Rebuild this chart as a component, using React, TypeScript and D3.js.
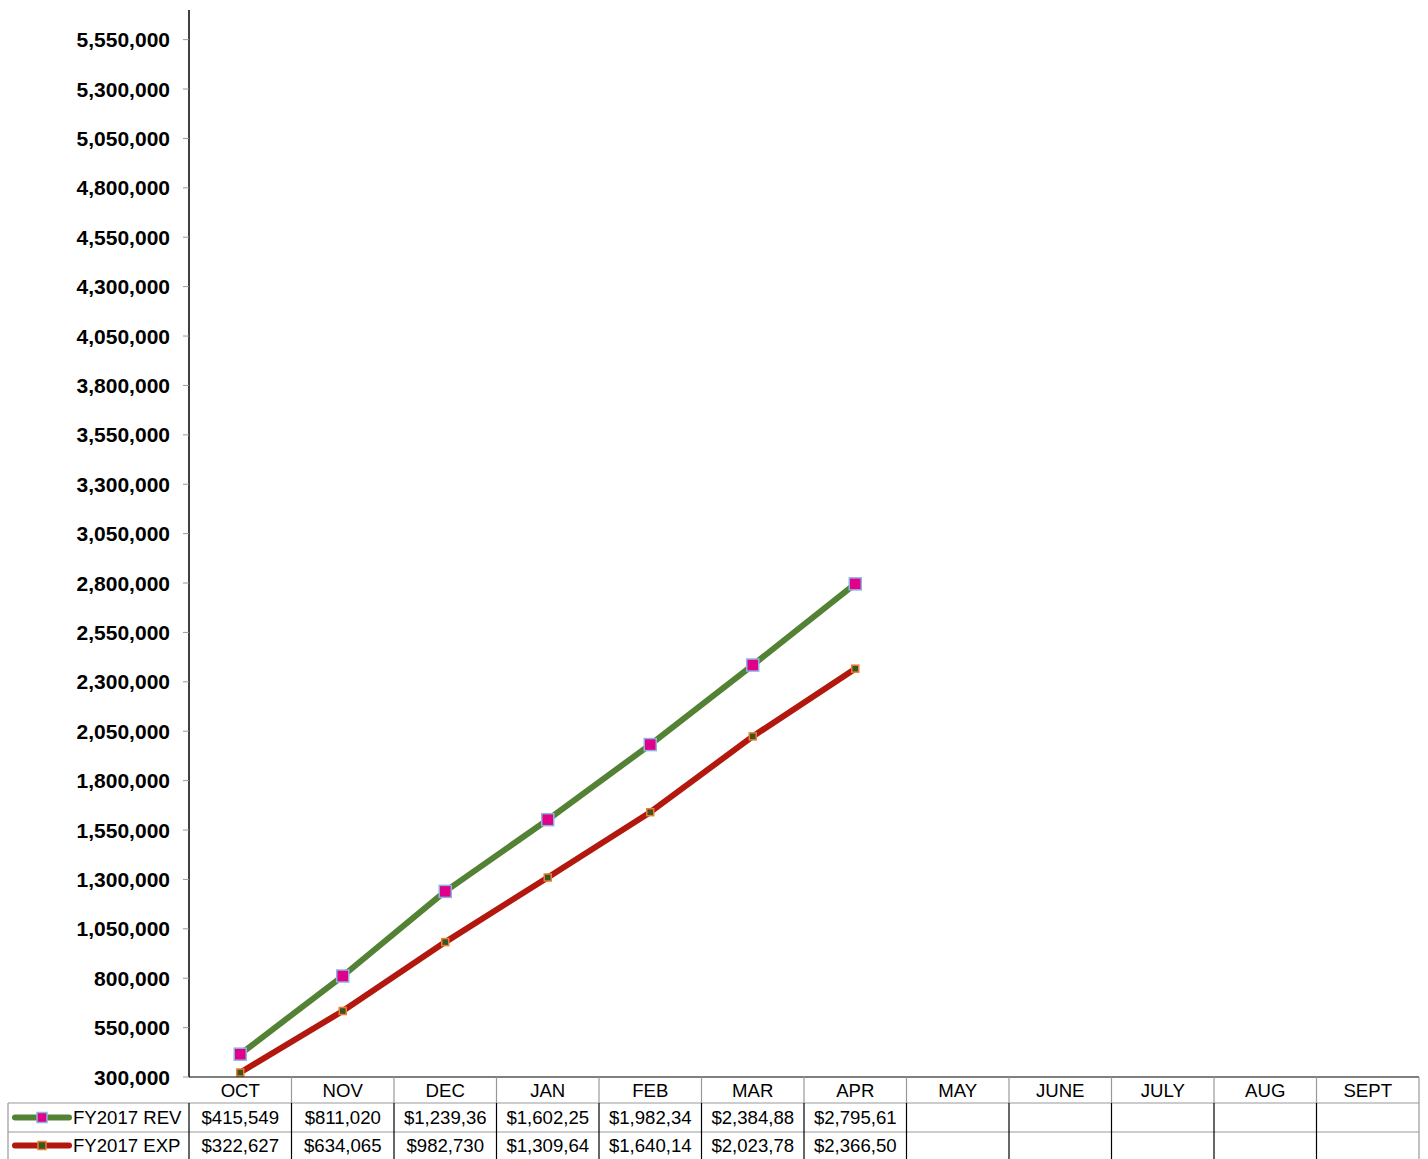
import React from "react";
import * as d3 from "d3";

const months = ["OCT", "NOV", "DEC", "JAN", "FEB", "MAR", "APR", "MAY", "JUNE", "JULY", "AUG", "SEPT"];
const revValues = [415549, 811020, 1239360, 1602250, 1982340, 2384880, 2795610];
const expValues = [322627, 634065, 982730, 1309640, 1640140, 2023780, 2366500];
const seriesNames = ["FY2017 REV", "FY2017 EXP"];
const yTicks = [300000, 550000, 800000, 1050000, 1300000, 1550000, 1800000, 2050000, 2300000, 2550000, 2800000, 3050000, 3300000, 3550000, 3800000, 4050000, 4300000, 4550000, 4800000, 5050000, 5300000, 5550000];

const W = 1428, H = 1159;
const left = 189, right = 1419, top = 10, bottom = 1077;
const tableLeft = 8;
const rowH1 = 1103, rowH2 = 1132;
const FONT = "Liberation Sans, Arial, sans-serif";

const series = [
  { name: seriesNames[0], values: revValues, line: "#548235", fill: "#e0008a", stroke: "#8db3e2", size: 12 },
  { name: seriesNames[1], values: expValues, line: "#b2180e", fill: "#375623", stroke: "#ed7d31", size: 7 },
];

const fmt = (v: number) => {
  const s = d3.format("$,")(v);
  return s.length > 9 ? s.slice(0, 9) : s;
};

export default function App() {
  const x = d3.scaleBand<string>().domain(months).range([left, right]);
  const y = d3.scaleLinear().domain([300000, 5700000]).range([bottom, top]);
  const cx = (m: string) => (x(m) as number) + x.bandwidth() / 2;
  const line = d3.line<number>().x((_, i) => cx(months[i])).y((d) => y(d));
  const rowYs = [rowH1, rowH2];
  const rowCenters = [(rowH1 + rowH2) / 2, (rowH2 + H) / 2];

  return (
    <svg width={W} height={H} style={{ position: "absolute", left: 0, top: 0, background: "#fff" }} fontFamily={FONT}>
      {/* y axis */}
      <line x1={left} x2={left} y1={top} y2={bottom} stroke="#000" strokeWidth={1.5} />
      {yTicks.map((t) => (
        <g key={t}>
          <line x1={left - 6} x2={left} y1={y(t)} y2={y(t)} stroke="#999" strokeWidth={1} />
          <text x={170} y={y(t)} dy="0.36em" textAnchor="end" fontSize={21} fontWeight="bold" fill="#000">
            {d3.format(",")(t)}
          </text>
        </g>
      ))}

      {/* lines */}
      {series.map((s) => (
        <path key={s.name} d={line(s.values) || ""} fill="none" stroke={s.line} strokeWidth={6} strokeLinejoin="round" />
      ))}
      {series.map((s) => (
        <g key={s.name + "m"}>
          {s.values.map((v, i) => (
            <rect key={i} x={cx(months[i]) - s.size / 2} y={y(v) - s.size / 2} width={s.size} height={s.size}
              fill={s.fill} stroke={s.stroke} strokeWidth={1.5} />
          ))}
        </g>
      ))}

      {/* table */}
      <line x1={left} x2={right} y1={bottom} y2={bottom} stroke="#000" strokeWidth={1.2} />
      {rowYs.map((ry) => (
        <line key={ry} x1={tableLeft} x2={right} y1={ry} y2={ry} stroke="#999" strokeWidth={1.2} />
      ))}
      <line x1={tableLeft} x2={tableLeft} y1={rowH1} y2={H} stroke="#999" strokeWidth={1.2} />
      <line x1={right} x2={right} y1={bottom} y2={H} stroke="#999" strokeWidth={1.2} />
      {months.map((m, i) => (
        <g key={m}>
          {i > 0 && <line x1={x(m) as number} x2={x(m) as number} y1={bottom} y2={rowH1} stroke="#999" strokeWidth={1.2} />}
          <line x1={x(m) as number} x2={x(m) as number} y1={rowH1} y2={H} stroke="#000" strokeWidth={1.2} />
          <text x={cx(m)} y={(bottom + rowH1) / 2} dy="0.36em" textAnchor="middle" fontSize={18.6} fill="#000">{m}</text>
        </g>
      ))}
      {series.map((s, si) => (
        <g key={s.name + "t"}>
          <line x1={15} x2={69} y1={rowCenters[si]} y2={rowCenters[si]} stroke={s.line} strokeWidth={6} strokeLinecap="round" />
          <rect x={42 - (si === 0 ? 5 : 4)} y={rowCenters[si] - (si === 0 ? 5 : 4)} width={si === 0 ? 10 : 8} height={si === 0 ? 10 : 8}
            fill={s.fill} stroke={s.stroke} strokeWidth={1.5} />
          <text x={73} y={rowCenters[si]} dy="0.36em" fontSize={18.6} fill="#000">{s.name}</text>
          {s.values.map((v, i) => (
            <text key={i} x={cx(months[i])} y={rowCenters[si]} dy="0.36em" textAnchor="middle" fontSize={18.6} fill="#000">{fmt(v)}</text>
          ))}
        </g>
      ))}
    </svg>
  );
}
